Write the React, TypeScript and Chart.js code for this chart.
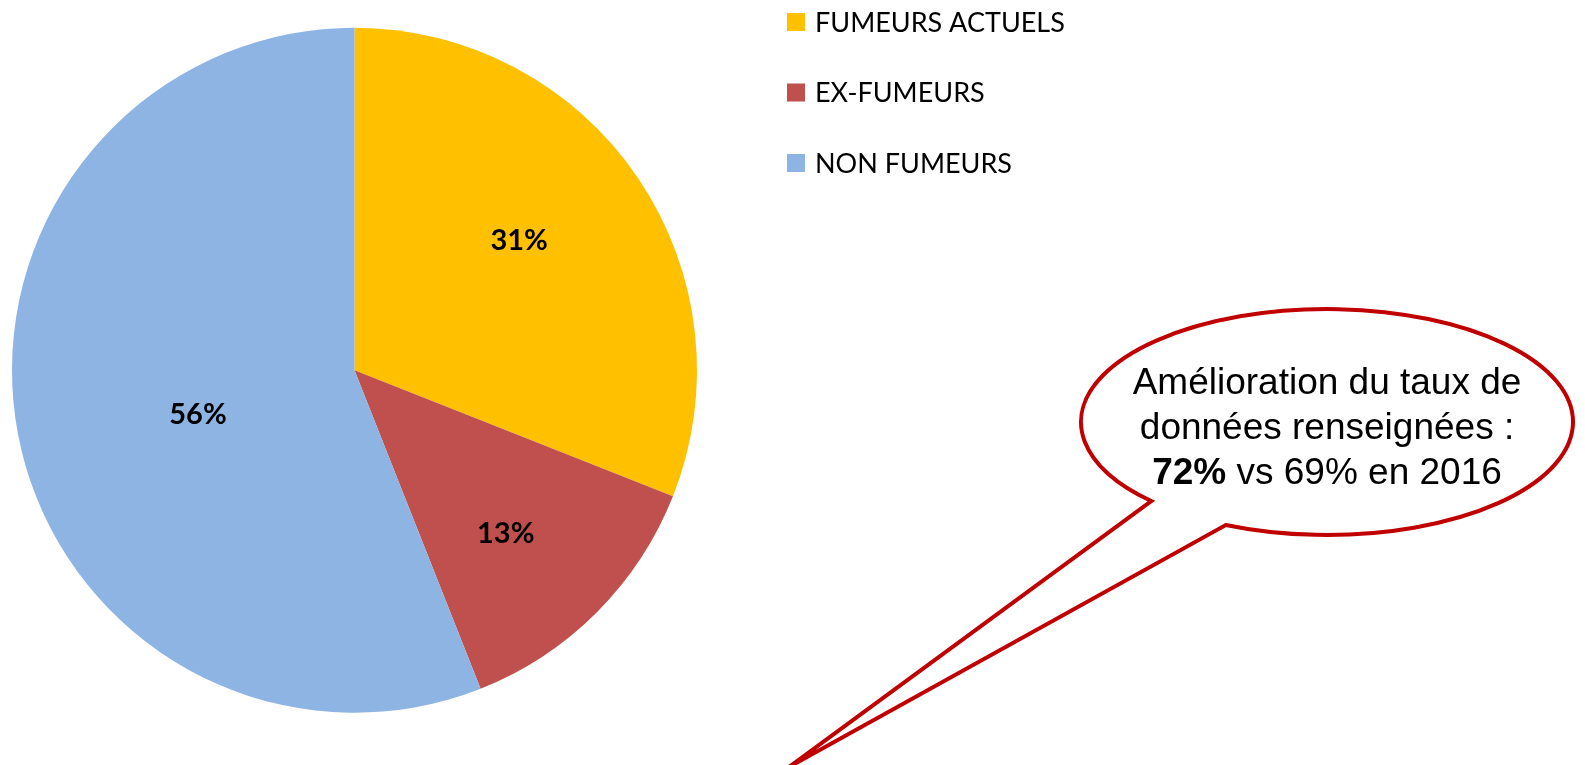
import React, { useEffect, useRef } from "react";
import { Chart, registerables } from "chart.js";

Chart.register(...registerables);

const categories = ["FUMEURS ACTUELS", "EX-FUMEURS", "NON FUMEURS"];
const shares = [31, 13, 56];
const percentLabels = ["31%", "13%", "56%"];
const sliceColors = ["#FFC000", "#C0504D", "#8EB4E3"];
const labelRadiusFractions = [0.611, 0.651, 0.475];
const labelAngleShiftsDeg = [-3.9, 2.3, -5];
const calloutLine1 = "Amélioration du taux de";
const calloutLine2 = "données renseignées :";
const calloutBold = "72%";
const calloutRest = " vs 69% en 2016";

const sliceLabelPlugin = {
  id: "sliceLabels",
  afterDatasetsDraw(chart: any) {
    const ctx = chart.ctx;
    const meta = chart.getDatasetMeta(0);
    ctx.save();
    ctx.font = "bold 29px Lato";
    ctx.fillStyle = "#000";
    ctx.textAlign = "center";
    ctx.textBaseline = "middle";
    meta.data.forEach((arc: any, i: number) => {
      const mid = (arc.startAngle + arc.endAngle) / 2 + (labelAngleShiftsDeg[i] * Math.PI) / 180;
      const r = arc.outerRadius * labelRadiusFractions[i];
      ctx.fillText(percentLabels[i], arc.x + Math.cos(mid) * r, arc.y + Math.sin(mid) * r);
    });
    ctx.restore();
  },
};

const customLegendPlugin = {
  id: "customLegend",
  afterDraw(chart: any) {
    const ctx = chart.ctx;
    const bg = chart.data.datasets[0].backgroundColor;
    const boxX = 787;
    const firstTop = 13;
    const step = 70.5;
    const box = 18;
    ctx.save();
    ctx.font = "27px Lato";
    ctx.textBaseline = "middle";
    ctx.textAlign = "left";
    chart.data.labels.forEach((lab: string, i: number) => {
      const top = firstTop + i * step;
      ctx.fillStyle = bg[i];
      ctx.fillRect(boxX, top, box, box);
      ctx.fillStyle = "#000";
      ctx.fillText(lab, 815, top + box / 2 + 1);
    });
    ctx.restore();
  },
};

const calloutPlugin = {
  id: "callout",
  afterDraw(chart: any) {
    const ctx = chart.ctx;
    const cx = 1327;
    const cy = 422;
    const rx = 246;
    const ry = 113;
    const tA = (135.6 * Math.PI) / 180;
    const tB = (114.3 * Math.PI) / 180;
    const ax = cx + rx * Math.cos(tA);
    const ay = cy + ry * Math.sin(tA);
    const bx = cx + rx * Math.cos(tB);
    const by = cy + ry * Math.sin(tB);
    const tipX = 789;
    const tipY = 767;
    ctx.save();
    ctx.beginPath();
    ctx.moveTo(ax, ay);
    ctx.lineTo(tipX, tipY);
    ctx.lineTo(bx, by);
    ctx.ellipse(cx, cy, rx, ry, 0, tB, tA, true);
    ctx.closePath();
    ctx.fillStyle = "#FFFFFF";
    ctx.fill();
    ctx.lineWidth = 4;
    ctx.strokeStyle = "#C00000";
    ctx.lineJoin = "miter";
    ctx.stroke();

    const font = "37px 'Liberation Sans'";
    const bold = "bold 37px 'Liberation Sans'";
    ctx.fillStyle = "#000";
    ctx.textBaseline = "alphabetic";
    ctx.textAlign = "center";
    ctx.font = font;
    ctx.fillText(calloutLine1, cx, 394);
    ctx.fillText(calloutLine2, cx, 439);
    ctx.font = bold;
    const wb = ctx.measureText(calloutBold).width;
    ctx.font = font;
    const wr = ctx.measureText(calloutRest).width;
    const startX = cx - (wb + wr) / 2;
    ctx.textAlign = "left";
    ctx.font = bold;
    ctx.fillText(calloutBold, startX, 484);
    ctx.font = font;
    ctx.fillText(calloutRest, startX + wb, 484);
    ctx.restore();
  },
};

export default function App() {
  const ref = useRef<HTMLCanvasElement | null>(null);
  useEffect(() => {
    if (!ref.current) return;
    const chart = new Chart(ref.current, {
      type: "pie",
      data: {
        labels: categories,
        datasets: [
          {
            data: shares,
            backgroundColor: sliceColors,
            borderWidth: 0,
            hoverOffset: 0,
          },
        ],
      },
      options: {
        animation: false,
        responsive: true,
        maintainAspectRatio: false,
        layout: { padding: { left: 12, right: 888, top: 27.5, bottom: 52 } },
        plugins: {
          legend: { display: false },
          tooltip: { enabled: false },
        },
      },
      plugins: [sliceLabelPlugin, customLegendPlugin, calloutPlugin],
    });
    return () => chart.destroy();
  }, []);
  return (
    <div style={{ position: "absolute", left: 0, top: 0, width: 1585, height: 765, background: "#fff" }}>
      <canvas ref={ref} />
    </div>
  );
}
